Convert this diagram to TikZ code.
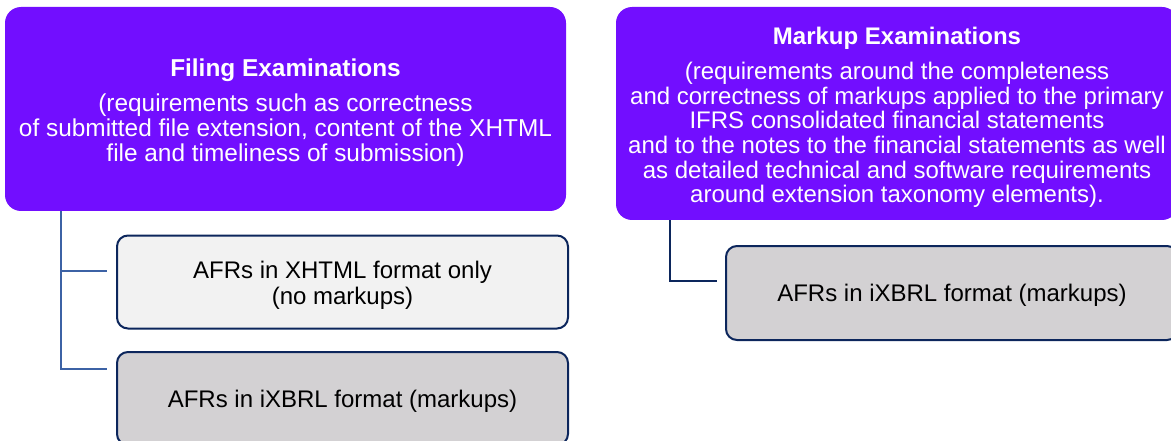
\documentclass[tikz,border=0pt]{standalone}
\usepackage{fontspec}
\setmainfont{Liberation Sans}
\usetikzlibrary{calc}
\definecolor{examviolet}{RGB}{114,14,255}
\definecolor{boxnavy}{RGB}{12,38,92}
\definecolor{connblue}{RGB}{60,98,165}
\definecolor{lightfill}{RGB}{242,242,242}
\definecolor{grayfill}{RGB}{211,209,211}
\tikzset{
  exambox/.style={fill=examviolet, draw=none, rounded corners=16pt, inner sep=0pt},
  examtext/.style={text=white, align=center, inner sep=0pt},
  afrbox/.style={draw=boxnavy, line width=2pt, rounded corners=11pt, inner sep=0pt},
  afrtext/.style={text=black, align=center, inner sep=0pt, font=\fontsize{24}{26}\selectfont},
  connleft/.style={draw=connblue, line width=2pt},
  connright/.style={draw=boxnavy, line width=2pt},
}
\begin{document}
\begin{tikzpicture}[x=1pt,y=-1pt]
\useasboundingbox (0,0) rectangle (1171,441);
\clip (0,0) rectangle (1171,441);
\node[exambox, minimum width=561pt, minimum height=204pt] (fe) at (285.5,109) {};
\node[examtext, font=\fontsize{24.4}{25}\selectfont] (fetext) at (285.5,112.5)
  {\textbf{Filing Examinations}\\[10pt]
   (requirements such as correctness\\
   of submitted file extension, content of the XHTML\\
   file and timeliness of submission)};
\node[exambox, minimum width=562pt, minimum height=213pt] (me) at (897,113.5) {};
\node[examtext, font=\fontsize{24}{24.7}\selectfont] (metext) at (897,117.5)
  {\textbf{Markup Examinations}\\[10pt]
   (requirements around the completeness\\
   and correctness of markups applied to the primary\\
   IFRS consolidated financial statements\\
   and to the notes to the financial statements as well\\
   as detailed technical and software requirements\\
   around extension taxonomy elements).};
\node[afrbox, fill=lightfill, minimum width=451pt, minimum height=93pt] (x1) at (342.5,282) {};
\node[afrtext] (x1text) at (342.5,285) {AFRs in XHTML format only\\(no markups)};
\node[afrbox, fill=grayfill, minimum width=451pt, minimum height=93pt] (x2) at (342.5,398.5) {};
\node[afrtext] (x2text) at (342.5,401) {AFRs in iXBRL format (markups)};
\node[afrbox, fill=grayfill, minimum width=452pt, minimum height=94pt] (x3) at (952,293) {};
\node[afrtext] (x3text) at (952,295.5) {AFRs in iXBRL format (markups)};
\coordinate (fetop) at ($(fe.south west)+(56,0)$);
\draw[connleft] (fetop) |- ($(x1.north west)+(-9,36)$);
\draw[connleft] (fetop) |- ($(x2.north west)+(-9,18)$);
\coordinate (metop) at ($(me.south west)+(54,0)$);
\draw[connright] (metop) |- ($(x3.north west)+(-8,36)$);
\end{tikzpicture}
\end{document}
